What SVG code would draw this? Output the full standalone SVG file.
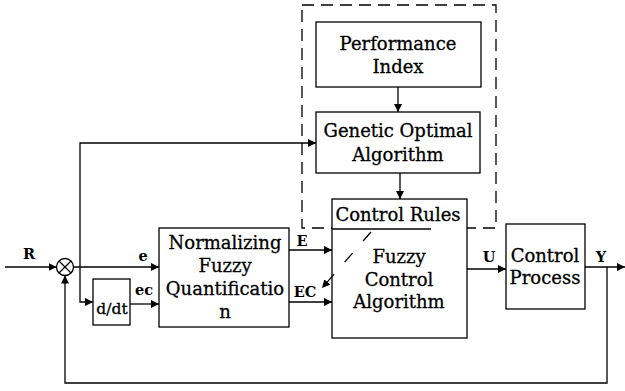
<svg xmlns="http://www.w3.org/2000/svg" width="625" height="391" viewBox="0 0 625 391">
<style>
.box{fill:#fff;stroke:#000;stroke-width:1.3}
.ln{fill:none;stroke:#000;stroke-width:1.3}
.dash{fill:none;stroke:#000;stroke-width:1.3;stroke-dasharray:12,7}
text{font-family:"DejaVu Serif","Liberation Serif",serif;font-size:18px;fill:#000;stroke:#000;stroke-width:0.3;text-anchor:middle}
.lbl{font-size:14.5px;font-weight:bold;stroke-width:0}
</style>
<defs>
<marker id="ah" viewBox="0 0 10 10" refX="10" refY="5" markerWidth="8" markerHeight="8" markerUnits="userSpaceOnUse" orient="auto">
<path d="M0,0 L10,5 L0,10 z" fill="#000"/>
</marker>
</defs>
<rect x="0" y="0" width="625" height="391" fill="#fff"/>
<g id="dashed-region"><rect class="dash" x="302" y="5" width="194" height="223"/></g>
<g id="performance-index">
<rect class="box" x="316" y="22" width="165" height="65"/>
<text x="398" y="50">Performance</text>
<text x="398" y="73">Index</text>
</g>
<g id="genetic-optimal">
<rect class="box" x="316" y="112" width="164" height="61"/>
<text x="398" y="137">Genetic Optimal</text>
<text x="398" y="161">Algorithm</text>
</g>
<g id="control-rules">
<rect class="box" x="332" y="199" width="135" height="139"/>
<text x="398" y="221">Control Rules</text>
<line class="ln" x1="332" y1="229" x2="431" y2="229"/>
<text x="399" y="263">Fuzzy</text>
<text x="399" y="286">Control</text>
<text x="399" y="308">Algorithm</text>
</g>
<g id="normalizing">
<rect class="box" x="159" y="228" width="130" height="99"/>
<text x="225" y="249">Normalizing</text>
<text x="225" y="272">Fuzzy</text>
<text x="225" y="295">Quantificatio</text>
<text x="225" y="318">n</text>
</g>
<g id="ddt">
<rect class="box" x="93" y="279" width="37" height="46"/>
<text x="112" y="314" style="font-size:15.5px">d/dt</text>
</g>
<g id="control-process">
<rect class="box" x="506" y="224" width="79" height="85"/>
<text x="545" y="262">Control</text>
<text x="545" y="284">Process</text>
</g>
<g id="sum">
<circle class="box" cx="65" cy="267" r="8.5"/>
<path class="ln" d="M59,261 L71,273 M71,261 L59,273"/>
</g>
<g id="connectors">
<path class="ln" d="M5,267 H56.5" marker-end="url(#ah)"/>
<path class="ln" d="M73.5,267 H159" marker-end="url(#ah)"/>
<path class="ln" d="M80,267 V302 H93" marker-end="url(#ah)"/>
<path class="ln" d="M80,267 V143 H316" marker-end="url(#ah)"/>
<path class="ln" d="M130,304 H159" marker-end="url(#ah)"/>
<path class="ln" d="M289,250 H332" marker-end="url(#ah)"/>
<path class="ln" d="M289,302 H332" marker-end="url(#ah)"/>
<path class="ln" d="M398,87 V112" marker-end="url(#ah)"/>
<path class="ln" d="M400,173 V199" marker-end="url(#ah)"/>
<path class="ln" d="M467,269 H506" marker-end="url(#ah)"/>
<path class="ln" d="M585,267 H625" marker-end="url(#ah)"/>
<path class="ln" d="M607,267 V383 H65 V275.5" marker-end="url(#ah)"/>
<path class="ln" d="M371,232 L322,288" style="stroke-dasharray:12,16" marker-end="url(#ah)"/>
</g>
<g id="labels">
<text class="lbl" x="29" y="259">R</text>
<text class="lbl" x="143" y="261">e</text>
<text class="lbl" x="144" y="295">ec</text>
<text class="lbl" x="302" y="246">E</text>
<text class="lbl" x="305" y="297">EC</text>
<text class="lbl" x="489" y="262">U</text>
<text class="lbl" x="601" y="262">Y</text>
</g>
</svg>
